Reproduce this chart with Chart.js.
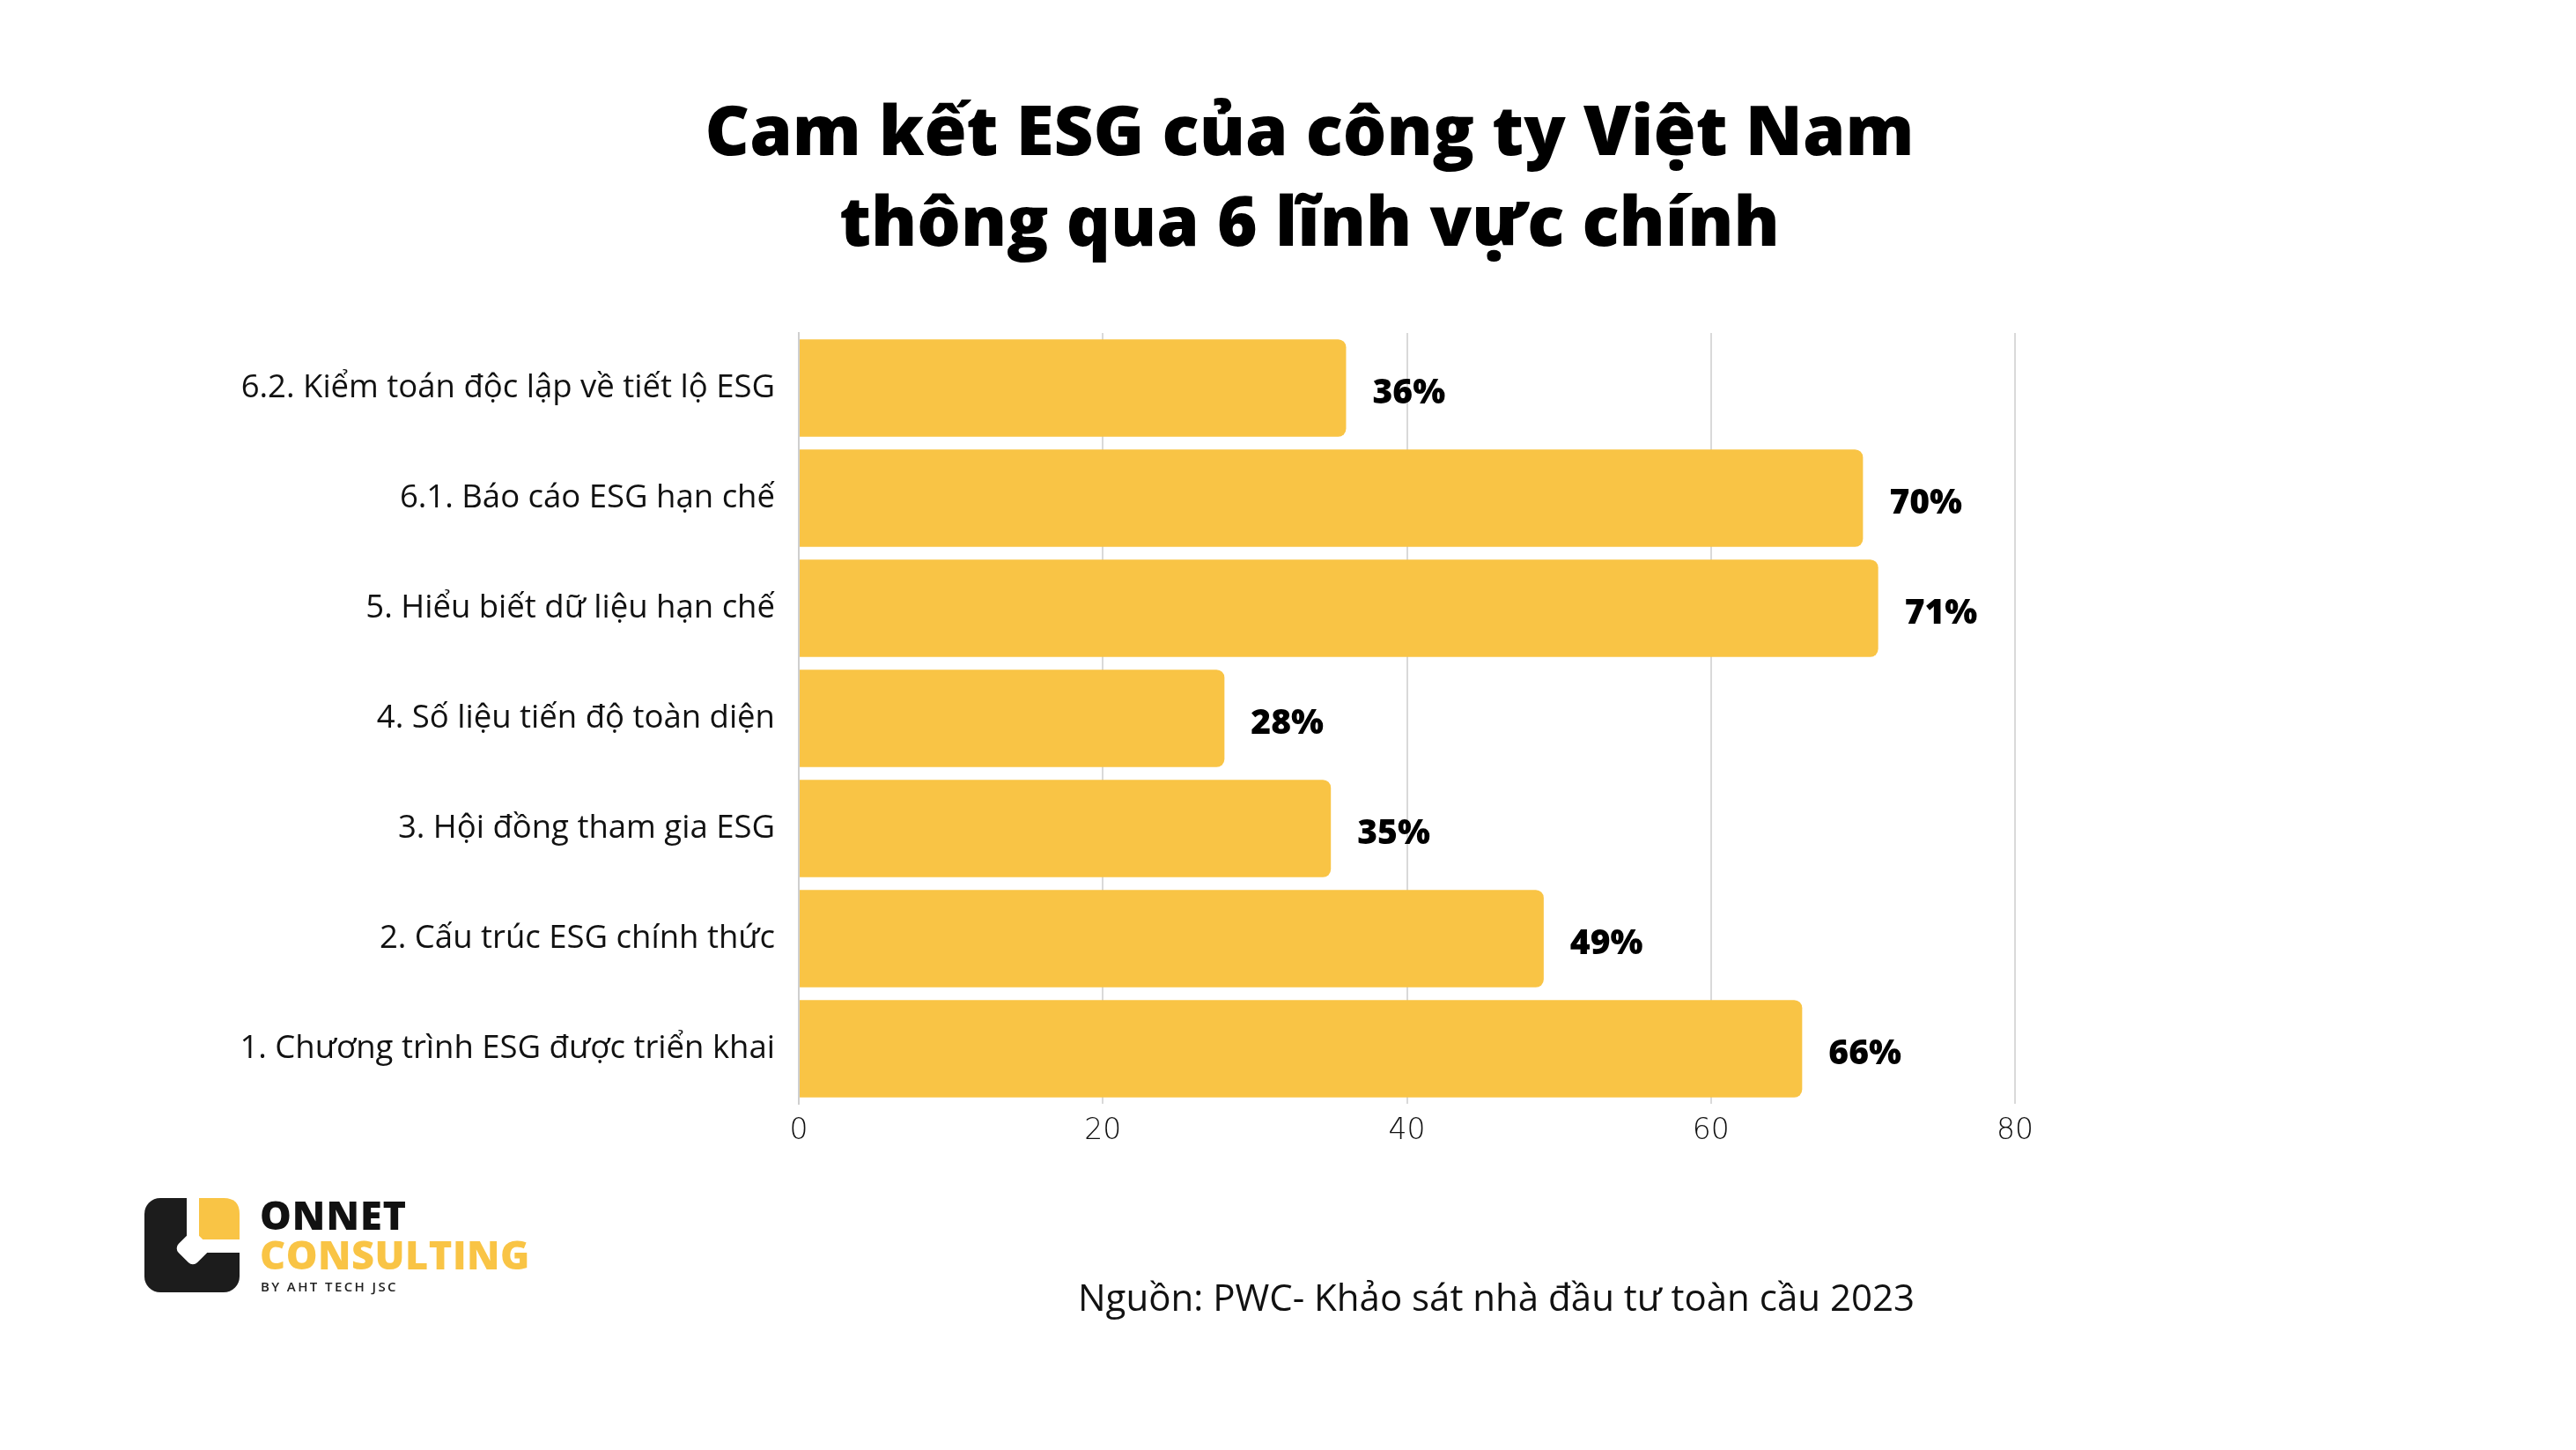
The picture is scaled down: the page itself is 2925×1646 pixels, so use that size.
<!DOCTYPE html>
<html lang="vi">
<head>
<meta charset="utf-8">
<script src="https://cdn.jsdelivr.net/npm/chart.js@4.4.1/dist/chart.umd.min.js"></script>
<style>
    html, body { margin: 0; padding: 0; background: #ffffff; }
    #page { position: relative; width: 2925px; height: 1646px; overflow: hidden; font-family: "Open Sans", sans-serif; }
    #chart { position: absolute; left: 0; top: 0; }
    .title { position: absolute; left: 0; width: 2974px; text-align: center; font-weight: 800; font-size: 78px; color: #000; line-height: 103px; top: 95px; }
    .source { position: absolute; left: 1224px; top: 1443px; font-size: 42px; color: #111; white-space: nowrap; }
    .logo { position: absolute; left: 164px; top: 1360px; }
    .brand1 { position: absolute; left: 295px; top: 1348px; font-weight: 800; font-size: 45px; color: #111; letter-spacing: 1px; }
    .brand2 { position: absolute; left: 295px; top: 1393px; font-weight: 800; font-size: 45px; color: #F9C445; letter-spacing: 0.5px; }
    .brand3 { position: absolute; left: 296px; top: 1450px; font-weight: 600; font-size: 15px; color: #222; letter-spacing: 2.4px; }
</style>
</head>
<body>
<div id="page">
    <canvas id="chart" width="2925" height="1646"></canvas>
    <div class="title">Cam kết ESG của công ty Việt Nam<br>thông qua 6 lĩnh vực chính</div>
    <svg class="logo" width="110" height="108" viewBox="0 0 110 108">
        <rect x="0" y="0" width="108" height="107" rx="18" fill="#1c1c1c"/>
        <rect x="48" y="-1" width="62" height="63" fill="#ffffff"/>
        <path d="M62 0 H90 Q108 0 108 18 V47 H62 Z" fill="#F9C445"/>
        <rect x="40" y="42" width="30" height="30" rx="7" fill="#ffffff" transform="rotate(45 55 57)"/>
    </svg>
    <div class="brand1">ONNET</div>
    <div class="brand2">CONSULTING</div>
    <div class="brand3">BY AHT TECH JSC</div>
    <div class="source">Nguồn: PWC- Khảo sát nhà đầu tư toàn cầu 2023</div>
</div>
<script>
// Dữ liệu
const categories = [
    '6.2. Kiểm toán độc lập về tiết lộ ESG',
    '6.1. Báo cáo ESG hạn chế',
    '5. Hiểu biết dữ liệu hạn chế',
    '4. Số liệu tiến độ toàn diện',
    '3. Hội đồng tham gia ESG',
    '2. Cấu trúc ESG chính thức',
    '1. Chương trình ESG được triển khai'
];
const values = [36, 70, 71, 28, 35, 49, 66];
const xTicks = [0, 20, 40, 60, 80];

// Nhãn phần trăm ở cuối mỗi thanh
const valueLabels = {
    id: 'valueLabels',
    afterDatasetsDraw(chart) {
        const ctx = chart.ctx;
        const meta = chart.getDatasetMeta(0);
        ctx.save();
        ctx.font = '800 39px "Open Sans"';
        ctx.fillStyle = '#000';
        ctx.textAlign = 'left';
        ctx.textBaseline = 'middle';
        meta.data.forEach((bar, i) => {
            ctx.fillText(values[i] + '%', bar.x + 30, bar.y + 6);
        });
        ctx.restore();
    }
};

const ctx = document.getElementById('chart').getContext('2d');
new Chart(ctx, {
    type: 'bar',
    data: {
        labels: categories,
        datasets: [{
            data: values,
            backgroundColor: '#F9C445',
            borderRadius: 9,
            borderSkipped: 'start',
            barPercentage: 1,
            categoryPercentage: 0.885
        }]
    },
    options: {
        indexAxis: 'y',
        responsive: false,
        animation: false,
        layout: {
            padding: { left: 0, right: 637, top: 378, bottom: 333 }
        },
        plugins: {
            legend: { display: false },
            tooltip: { enabled: false }
        },
        scales: {
            x: {
                min: 0,
                max: 80,
                afterBuildTicks: (scale) => { scale.ticks = xTicks.map(v => ({ value: v })); },
                afterFit: (scale) => { scale.height = 60; },
                grid: { color: '#d9d9d9', lineWidth: 2, drawTicks: false },
                border: { display: false },
                ticks: {
                    padding: 12,
                    color: '#111',
                    font: { family: '"DejaVu Sans"', size: 33, weight: '300' }
                }
            },
            y: {
                afterFit: (scale) => { scale.width = 907; },
                grid: { display: false, drawTicks: false },
                border: { display: true, color: '#cfcfcf', width: 2 },
                ticks: {
                    padding: 27,
                    color: '#111',
                    font: { family: '"Open Sans"', size: 36.5, weight: '400' }
                }
            }
        }
    },
    plugins: [valueLabels]
});
</script>
</body>
</html>
